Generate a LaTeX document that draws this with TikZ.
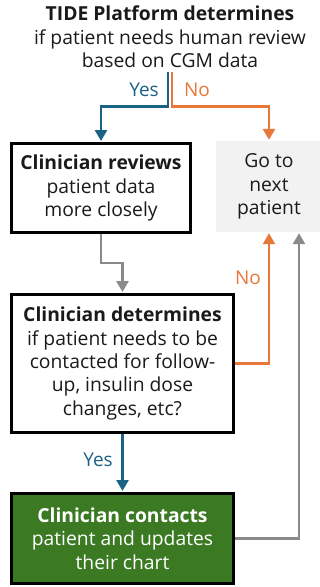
\documentclass[tikz,border=0pt]{standalone}
\usepackage{fontspec}
\setmainfont{Open Sans}
\usetikzlibrary{arrows.meta}
\definecolor{tblue}{HTML}{1B6285}
\definecolor{torange}{HTML}{E8773A}
\definecolor{tgreen}{HTML}{3B7A22}
\definecolor{tgray}{HTML}{8A8A8A}
\definecolor{tlight}{HTML}{F2F2F2}
\definecolor{ttext}{HTML}{1A1A1A}
\tikzset{
  txt/.style={font=\fontsize{19.3}{23.3}\selectfont, text=ttext, align=center},
  blackbox/.style={txt, draw=black, line width=3pt, fill=white, inner sep=0pt},
  greenbox/.style={blackbox, fill=tgreen, text=white},
  greybox/.style={txt, fill=tlight, inner sep=0pt},
  conn/.style={line width=2.6pt, -{Triangle[width=12pt,length=11pt]}, shorten >=1pt},
  lbl/.style={font=\fontsize{19}{20}\selectfont, inner sep=0pt}
}
\begin{document}
\begin{tikzpicture}[x=1pt,y=-1pt]
\useasboundingbox (0,0) rectangle (320,587);
\node[txt, minimum height=70pt, inner sep=0pt] (title) at (170,37) {\textbf{TIDE Platform determines}\\if patient needs human review\\based on CGM data};
\node[blackbox, minimum width=179pt, minimum height=89pt] (review) at (101,188) {\textbf{Clinician reviews}\\patient data\\more closely};
\node[greybox, minimum width=106pt, minimum height=91pt] (next) at (269,186.5) {Go to\\next\\patient};
\node[blackbox, minimum width=222pt, minimum height=138pt] (determine) at (122.5,363.5) {\textbf{Clinician determines}\\if patient needs to be\\contacted for follow-\\up, insulin dose\\changes, etc?};
\node[greenbox, minimum width=222pt, minimum height=90pt] (contact) at (122.5,538.5) {\textbf{Clinician contacts}\\patient and updates\\their chart};
\draw[conn, tblue] ([xshift=-2pt]title.south) -- ++(0,34) -| (review.north);
\draw[conn, torange] ([xshift=2pt]title.south) -- ++(0,34) -| (next.north);
\draw[conn, tgray] (review.south) -- ++(0,29) -| (determine.north);
\draw[conn, torange, line width=2.2pt] (determine.east) -| (next.south);
\draw[conn, tgray] (contact.east) -| ([xshift=30pt]next.south);
\draw[conn, tblue] (determine.south) -- (contact.north);
\node[lbl, text=tblue] (yes1) at (144,90) {Yes};
\node[lbl, text=torange] (no1) at (197,90) {No};
\node[lbl, text=torange] (no2) at (248,278) {No};
\node[lbl, text=tblue] (yes2) at (98,460) {Yes};
\end{tikzpicture}
\end{document}
